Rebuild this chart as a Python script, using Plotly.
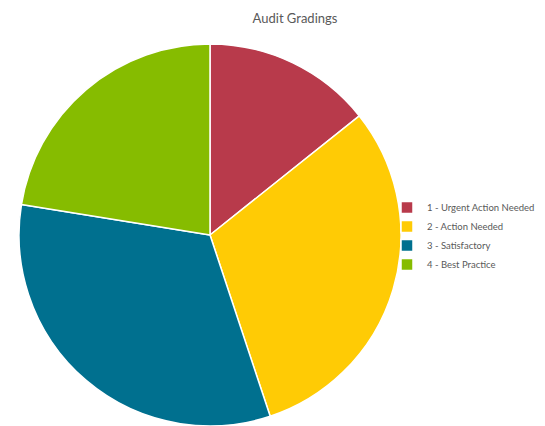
import plotly.graph_objects as go

labels = ["1 - Urgent Action Needed", "2 - Action Needed", "3 - Satisfactory", "4 - Best Practice"]
values = [7, 15, 16, 11]
colors = ["#B83A4B", "#FFCB05", "#00708F", "#86BC00"]

W, H = 545, 426
OFF = 8  # page body margin
cx, cy_top, r = 210 - OFF, 235 - OFF, 191

fig = go.Figure(go.Pie(
    labels=labels, values=values, sort=False, direction="clockwise", rotation=0,
    marker=dict(colors=colors, line=dict(color="white", width=1.5)),
    textinfo="none", hoverinfo="label+value+percent",
    domain=dict(x=[(cx - r) / W, (cx + r) / W], y=[(H - cy_top - r) / H, (H - cy_top + r) / H]),
))
fig.update_layout(
    width=W, height=H, margin=dict(l=0, r=0, t=0, b=0, autoexpand=False),
    paper_bgcolor="white", plot_bgcolor="white",
    font=dict(family="Lato, Open Sans, sans-serif", color="#595959"),
    title=dict(text="Audit Gradings", x=(295 - OFF) / W, xanchor="center", y=1 - (18 - OFF) / H,
               yanchor="middle", font=dict(size=13, color="#595959")),
    legend=dict(x=(387 - OFF) / W, xanchor="left", y=1 - (193 - OFF) / H, yanchor="top",
                font=dict(size=9.5, color="#595959"), bgcolor="rgba(0,0,0,0)"),
)
fig.write_html("out.html")
